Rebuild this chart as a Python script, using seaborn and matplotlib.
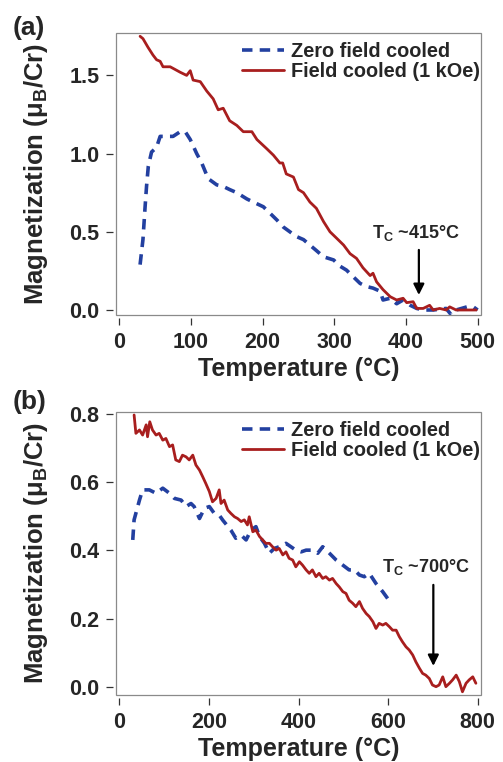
import numpy as np
import pandas as pd
import matplotlib
matplotlib.use("Agg")
import matplotlib.pyplot as plt
from matplotlib.patches import Rectangle
import seaborn as sns

# ---------------- data ----------------
# Panel (a)
a_fc_T = [29, 33, 40, 47, 52, 57, 61, 71, 85, 94, 99, 103, 113, 122, 131, 138, 145, 154, 164,
          173, 185, 192, 206, 215, 224, 228, 233, 243, 250, 257, 266, 275, 285, 294, 303, 313,
          322, 331, 340, 350, 354, 359, 368, 378, 387, 396, 401, 410, 415, 424, 433, 438, 447,
          456, 461, 470, 485, 498]
a_fc_M = [1.75, 1.735, 1.68, 1.63, 1.60, 1.59, 1.555, 1.555, 1.52, 1.50, 1.53, 1.47, 1.46, 1.40,
          1.35, 1.28, 1.29, 1.21, 1.18, 1.14, 1.14, 1.09, 1.03, 0.99, 0.94, 0.94, 0.87, 0.85,
          0.77, 0.75, 0.69, 0.65, 0.565, 0.50, 0.46, 0.415, 0.36, 0.33, 0.27, 0.22, 0.235, 0.18,
          0.13, 0.085, 0.064, 0.075, 0.047, 0.053, 0.01, 0.01, 0.03, 0.0, 0.01, 0.0, 0.02, 0.0,
          0.0, 0.0]
a_zfc_T = [29, 33, 36, 38, 40.5, 45, 52, 57, 66, 75, 85, 92, 99, 108, 115, 124, 136, 145, 154,
           164, 178, 187, 201, 210, 220, 229, 238, 247, 257, 266, 275, 285, 292, 299, 308, 317,
           327, 336, 345, 354, 364, 368, 378, 387, 396, 406, 415, 424, 438, 456, 463, 470, 485,
           494, 500]
a_zfc_M = [0.29, 0.45, 0.66, 0.79, 0.92, 1.01, 1.04, 1.11, 1.11, 1.11, 1.14, 1.14, 1.09, 1.00,
           0.94, 0.84, 0.80, 0.79, 0.77, 0.75, 0.71, 0.69, 0.66, 0.62, 0.575, 0.53, 0.50, 0.47,
           0.45, 0.415, 0.38, 0.34, 0.33, 0.32, 0.28, 0.255, 0.21, 0.17, 0.15, 0.14, 0.12,
           0.064, 0.075, 0.04, 0.064, 0.03, 0.01, 0.0, 0.0, 0.01, -0.03, 0.0, 0.02, 0.02, 0.0]

# Panel (b)
b_fc_T = [33, 37, 45, 52, 60, 63, 68, 74, 82, 89, 97, 104, 112, 119, 126, 134, 141, 149, 156,
          164, 171, 179, 186, 193, 201, 208, 216, 223, 227, 234, 242, 249, 257, 264, 272, 279,
          286, 290, 298, 305, 313, 320, 327, 335, 342, 350, 357, 365, 372, 379, 387, 394, 402,
          409, 417, 424, 431, 439, 446, 454, 461, 469, 476, 484, 491, 499, 506, 513, 521, 528,
          536, 543, 551, 558, 566, 573, 580, 588, 595, 603, 610, 618, 625, 632, 640, 647, 655,
          662, 670, 677, 684, 692, 699, 707, 714, 722, 729, 737, 744, 752, 759, 766, 774, 781,
          789, 796]
b_fc_M = [0.798, 0.744, 0.754, 0.739, 0.769, 0.734, 0.778, 0.754, 0.739, 0.744, 0.724, 0.729,
          0.705, 0.710, 0.666, 0.661, 0.680, 0.675, 0.666, 0.680, 0.651, 0.636, 0.617, 0.597,
          0.573, 0.543, 0.553, 0.578, 0.538, 0.548, 0.519, 0.509, 0.499, 0.494, 0.485, 0.490,
          0.475, 0.499, 0.455, 0.460, 0.441, 0.431, 0.421, 0.421, 0.411, 0.401, 0.406, 0.387,
          0.396, 0.377, 0.372, 0.352, 0.367, 0.357, 0.343, 0.333, 0.343, 0.323, 0.333, 0.318,
          0.323, 0.313, 0.318, 0.303, 0.293, 0.279, 0.274, 0.254, 0.245, 0.235, 0.250, 0.230,
          0.215, 0.206, 0.191, 0.171, 0.186, 0.181, 0.186, 0.176, 0.166, 0.166, 0.147, 0.132,
          0.117, 0.108, 0.093, 0.073, 0.054, 0.039, 0.034, 0.024, 0.005, 0.0, 0.005, 0.029,
          0.0, 0.010, 0.020, 0.034, 0.015, -0.015, 0.010, 0.020, 0.029, 0.010]
b_zfc_T = [30, 33, 45, 52, 67, 82, 97, 112, 123, 138, 149, 160, 167, 179, 190, 201, 212, 223,
           231, 249, 260, 272, 283, 294, 305, 313, 324, 335, 346, 357, 372, 383, 394, 406, 417,
           432, 443, 454, 469, 484, 499, 513, 525, 536, 547, 558, 573, 588, 599]
b_zfc_M = [0.431, 0.49, 0.548, 0.578, 0.578, 0.568, 0.583, 0.568, 0.553, 0.548, 0.529, 0.538,
           0.529, 0.494, 0.524, 0.529, 0.509, 0.504, 0.489, 0.460, 0.436, 0.445, 0.431, 0.460,
           0.470, 0.441, 0.421, 0.392, 0.406, 0.411, 0.421, 0.411, 0.401, 0.396, 0.401, 0.401,
           0.392, 0.411, 0.392, 0.372, 0.357, 0.343, 0.343, 0.328, 0.323, 0.333, 0.303, 0.279,
           0.259]

legend_labels = ["Zero field cooled", "Field cooled (1 kOe)"]
panel_labels = ["(a)", "(b)"]
a_xticks = [0, 100, 200, 300, 400, 500]
a_yticks = [0.0, 0.5, 1.0, 1.5]
b_xticks = [0, 200, 400, 600, 800]
b_yticks = [0.0, 0.2, 0.4, 0.6, 0.8]
tc_labels = ["T$_\\mathrm{C}$ ~415°C", "T$_\\mathrm{C}$ ~700°C"]
tc_values = [415, 700]

# ---------------- style ----------------
sns.set_style("ticks")
plt.rcParams["font.family"] = ["Liberation Sans", "DejaVu Sans"]
plt.rcParams["font.weight"] = "bold"
plt.rcParams["mathtext.fontset"] = "custom"
plt.rcParams["mathtext.rm"] = "Liberation Sans:bold"
plt.rcParams["mathtext.bf"] = "Liberation Sans:bold"
plt.rcParams["mathtext.it"] = "Liberation Sans:bold"

RED = "#a81e1e"
BLUE = "#2340a0"
FRAME = "#8a8a8a"

fig = plt.figure(figsize=(5.03, 7.62), dpi=100)
ax_a = fig.add_axes([116 / 503, 1 - 315 / 762, 365 / 503, 282 / 762])
ax_b = fig.add_axes([116 / 503, 1 - 695 / 762, 365 / 503, 283.3 / 762])

panels = [
    (ax_a, a_zfc_T, a_zfc_M, a_fc_T, a_fc_M, a_xticks, a_yticks, (-4.6, 504.7), (-0.032, 1.771),
     (414, 0.462), (tc_values[0] + 3, 0.384, 0.096)),
    (ax_b, b_zfc_T, b_zfc_M, b_fc_T, b_fc_M, b_xticks, b_yticks, (-7.4, 807.4), (-0.0244, 0.8076),
     (685, 0.338), (tc_values[1] + 1, 0.299, 0.061)),
]

for i, (ax, zT, zM, fT, fM, xt, yt, xl, yl, tpos, arr) in enumerate(panels):
    dz = pd.DataFrame({"T": zT, "M": zM})
    df = pd.DataFrame({"T": fT, "M": fM})
    sns.lineplot(data=dz, x="T", y="M", ax=ax, color=BLUE, lw=2.6,
                 ls=(0, (2.9, 2.0)), label=legend_labels[0], estimator=None, sort=False)
    sns.lineplot(data=df, x="T", y="M", ax=ax, color=RED, lw=2.0,
                 label=legend_labels[1], estimator=None, sort=False)
    ax.set_xlim(*xl)
    ax.set_ylim(*yl)
    ax.set_xticks(xt)
    ax.set_yticks(yt)
    ax.set_xticklabels([f"{v:d}" for v in xt])
    ax.set_yticklabels([f"{v:.1f}" for v in yt])
    ax.tick_params(axis="both", direction="out", length=5, width=0.9, color="#333333",
                   labelsize=15.5, pad=4.5)
    for s in ["left", "bottom"]:
        ax.spines[s].set_position(("outward", 2.5))
        ax.spines[s].set_visible(False)
    for s in ["top", "right"]:
        ax.spines[s].set_visible(False)
    ax.add_patch(Rectangle((0, 0), 1, 1, transform=ax.transAxes, fill=False,
                           ec=FRAME, lw=0.9, clip_on=False, zorder=5))
    ax.set_xlabel("Temperature (°C)", fontsize=18, fontweight="bold")
    ax.set_ylabel("Magnetization (μ$_\\mathrm{B}$/Cr)", fontsize=18.5, fontweight="bold")
    ax.xaxis.set_label_coords(0.5, -0.15)
    ax.yaxis.set_label_coords(-0.18, 0.5)
    leg = ax.legend(loc="upper right", bbox_to_anchor=(0.997, 0.968), frameon=False,
                    fontsize=14.3, handlelength=2.1, handletextpad=0.35, labelspacing=0.05,
                    borderpad=0, borderaxespad=0)
    ax.text(tpos[0], tpos[1], tc_labels[i], ha="center", va="baseline", fontsize=13,
            fontweight="bold")
    ax.annotate("", xy=(arr[0], arr[2]), xytext=(arr[0], arr[1]),
                arrowprops=dict(arrowstyle="-|>", color="black", lw=1.6, mutation_scale=16,
                                shrinkA=0, shrinkB=0))

fig.text(13 / 503, 1 - 35 / 762, panel_labels[0], fontsize=19, fontweight="bold",
         ha="left", va="baseline")
fig.text(13 / 503, 1 - 409 / 762, panel_labels[1], fontsize=19, fontweight="bold",
         ha="left", va="baseline")

fig.savefig("out.png", dpi=100)
